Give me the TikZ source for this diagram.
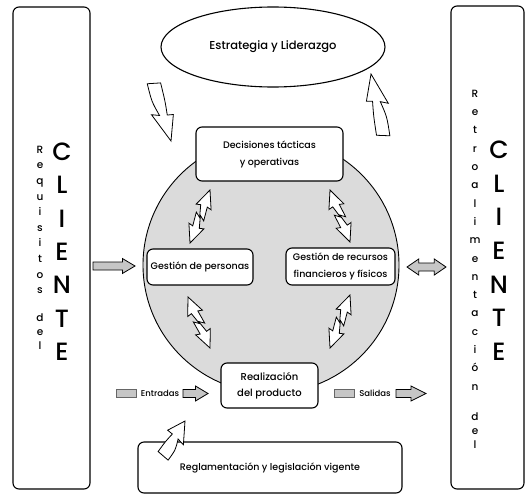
\documentclass[tikz,border=0pt]{standalone}
\usepackage{fontspec}
\setmainfont{Poppins Medium}
\usetikzlibrary{positioning,calc,shapes.geometric}

\tikzset{
  panel/.style={draw, rounded corners=6pt, line width=1.1pt},
  core/.style={circle, draw, fill=gray!28, line width=0.9pt, minimum size=256pt, inner sep=0pt},
  oval/.style={ellipse, draw, line width=1.1pt, minimum width=224pt, minimum height=80pt,
    inner sep=0pt, font=\fontsize{11.5}{13}\selectfont},
  box/.style={draw, rounded corners=6pt, fill=white, line width=1.1pt, align=center,
    inner sep=0pt, font=\fontsize{9.5}{17}\selectfont},
  letter/.style={inner sep=0pt, text height=1.6ex, text depth=0.4ex, font=\fontsize{10.5}{12}\selectfont},
  bigletter/.style={inner sep=0pt, font=\fontsize{25}{28}\selectfont},
  flowtext/.style={inner sep=0pt, font=\fontsize{8.5}{10}\selectfont},
  stripe/.style={draw=black!60, fill=gray!45, minimum width=20pt, minimum height=8pt, inner sep=0pt},
  zigarrow/.pic={\filldraw (0,0) -- (0.32,8) -- (0.3,3.5) -- (0.55,5) -- (0.48,0) -- (0.7,3.5)
    -- (0.68,8) -- (1,0) -- (0.68,-8) -- (0.7,-3.5) -- (0.45,-5) -- (0.52,0) -- (0.3,-3.5)
    -- (0.32,-8) -- cycle;},
  bentarrow/.pic={\filldraw (0,-6) .. controls (0.3,-7) .. (0.55,-3.5) -- (0.5,-11) -- (1,0)
    -- (0.6,10) -- (0.58,4) .. controls (0.35,6) .. (0.05,7) -- cycle;},
  grayarrow/.pic={\filldraw (0,-4) -- (0.7,-4) -- (0.7,-7.5) -- (1,0) -- (0.7,7.5) -- (0.7,4)
    -- (0,4) -- cycle;},
  grayshort/.pic={\filldraw (0,-4) -- (0.5,-4) -- (0.5,-7.5) -- (1,0) -- (0.5,7.5) -- (0.5,4)
    -- (0,4) -- cycle;},
  graytwin/.pic={\filldraw (0,0) -- (0.3,8) -- (0.3,4) -- (0.7,4) -- (0.7,8) -- (1,0) -- (0.7,-8)
    -- (0.7,-4) -- (0.3,-4) -- (0.3,-8) -- cycle;}
}

% block arrow pic stretched from one named point to another
\newcommand\placearrow[4]{%
  \path let \p1=(#2), \p2=(#3) in
    \pgfextra{%
      \pgfmathsetmacro\arrang{atan2(\y2-\y1,\x2-\x1)}%
      \pgfmathsetmacro\arrlen{veclen(\x2-\x1,\y2-\y1)}%
      \global\let\arrang\arrang
      \global\let\arrlen\arrlen};
  \pic[rotate=\arrang, x=\arrlen pt, y=1pt, line width=0.8pt, #4] at (#2) {#1};}

\begin{document}
\begin{tikzpicture}[x=1pt, y=-1pt]
  \useasboundingbox (0,0) rectangle (526,495);
  %client panels
  \node[panel, minimum width=77pt, minimum height=482pt] (reqpanel) at (51.5,248) {};
  \node[panel, minimum width=73pt, minimum height=483pt] (retpanel) at (487.5,247.5) {};
  \foreach \ch [count=\i] in {R,e,q,u,i,s,i,t,o,s}
      \node[letter] (rq\i) at (40,{150+(\i-1)*15.6}) {\ch};
  \foreach \ch [count=\i] in {d,e,l}
      \node[letter] (rd\i) at (40,{318+(\i-1)*14}) {\ch};
  \foreach \ch [count=\i] in {R,e,t,r,o,a,l,i,m,e,n,t,a,c,i,ó,n}
      \node[letter] (rt\i) at (475,{94+(\i-1)*18.3}) {\ch};
  \foreach \ch [count=\i] in {d,e,l}
      \node[letter] (rl\i) at (475,{417+(\i-1)*14}) {\ch};
  \foreach \ch [count=\i] in {C,L,I,E,N,T,E} {
      \node[bigletter] (cl\i) at (62,{152+(\i-1)*33.3}) {\ch};
      \node[bigletter] (cr\i) at (499,{150+(\i-1)*33.6}) {\ch};
  }

  %core of the organisation
  \node[core] (core) at (271,265) {};
  \node[oval] (strat) at (273,47) {Estrategia y Liderazgo};
  \node[box, minimum width=147pt, minimum height=54pt] (dec) at (269.5,154)
      {Decisiones tácticas\\y operativas};
  \node[box, minimum width=106pt, minimum height=36pt] (pers) at (200,267) {Gestión de personas};
  \node[box, minimum width=109pt, minimum height=37pt] (rec) at (340.5,266.5)
      {Gestión de recursos\\financieros y físicos};
  \node[box, minimum width=97pt, minimum height=45pt, font=\fontsize{10}{16}\selectfont] (real)
      at (269.5,385.5) {Realización\\del producto};
  \node[box, minimum width=264pt, minimum height=51pt] (regl) at (270,467.5)
      {Reglamentación y legislación vigente};

  %inputs and outputs
  \node[stripe] (inbar) at (126,393.5) {};
  \node[flowtext] (entr) at (160,393.5) {Entradas};
  \node[stripe] (outbar) at (344,393.5) {};
  \node[flowtext] (sal) at (375,393.5) {Salidas};

  %arrow ends
  \coordinate (s1a) at (153,82);  \coordinate (s1b) at (171,141);
  \coordinate (s2a) at (384,137); \coordinate (s2b) at (371,74);
  \coordinate (r1a) at (163,457); \coordinate (r1b) at (185,421);
  \coordinate (z1a) at (210,190); \coordinate (z1b) at (190,243);
  \coordinate (z2a) at (330,190); \coordinate (z2b) at (350,242);
  \coordinate (z3a) at (188,297); \coordinate (z3b) at (210,348);
  \coordinate (z4a) at (350,295); \coordinate (z4b) at (330,348);
  \coordinate (ina) at (93,266);  \coordinate (inb) at (135,266);
  \coordinate (outa) at (407,267); \coordinate (outb) at (446,267);
  \coordinate (ena) at (183,393.5); \coordinate (enb) at (208,393.5);
  \coordinate (saa) at (396,393.5); \coordinate (sab) at (426,393.5);

  %arrows
  \placearrow{bentarrow}{s1a}{s1b}{fill=white}
  \placearrow{bentarrow}{s2a}{s2b}{fill=white}
  \placearrow{bentarrow}{r1a}{r1b}{fill=white}
  \placearrow{zigarrow}{z1a}{z1b}{fill=white}
  \placearrow{zigarrow}{z2a}{z2b}{fill=white}
  \placearrow{zigarrow}{z3a}{z3b}{fill=white}
  \placearrow{zigarrow}{z4a}{z4b}{fill=white}
  \placearrow{grayarrow}{ina}{inb}{fill=gray!45}
  \placearrow{graytwin}{outa}{outb}{fill=gray!45}
  \placearrow{grayshort}{ena}{enb}{fill=gray!45}
  \placearrow{grayshort}{saa}{sab}{fill=gray!45}
\end{tikzpicture}
\end{document}
